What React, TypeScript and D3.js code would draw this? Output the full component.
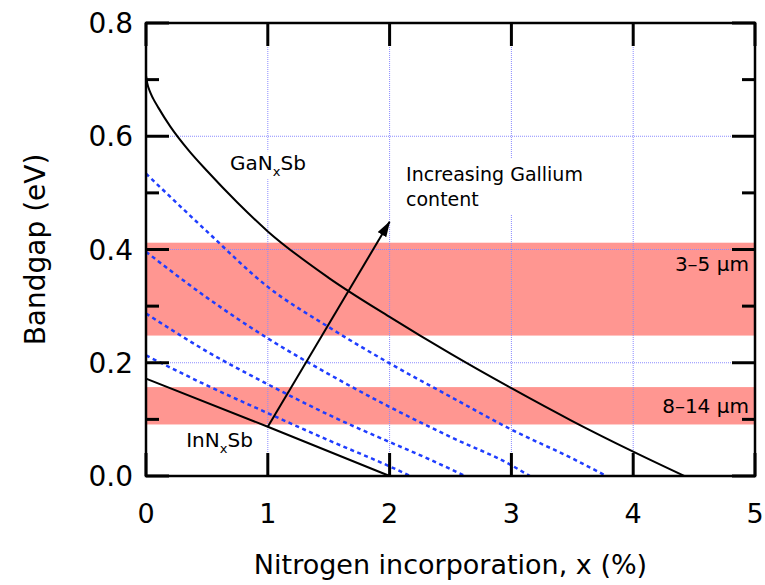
import React, { useRef, useEffect } from 'react';
import * as d3 from 'd3';

// axis ticks
const xTicks = [0, 1, 2, 3, 4, 5];
const yTicks = [0, 0.2, 0.4, 0.6, 0.8];
const yMinorTicks = [0.1, 0.3, 0.5, 0.7];
const gridX = [1, 2, 3, 4];
const gridY = [0.2, 0.4, 0.6];

// detector windows (eV)
const bandNames = ['3–5 μm', '8–14 μm'];
const bandLow = [0.248, 0.091];
const bandHigh = [0.412, 0.157];

// GaNxSb (solid)
const ganX = [0, 0.01, 0.03, 0.06, 0.1, 0.2, 0.35, 0.5, 0.75, 1, 1.5, 2, 2.5, 3, 3.5, 4, 4.42];
const ganY = [0.707, 0.694, 0.68, 0.666, 0.651, 0.617, 0.575, 0.539, 0.483, 0.432, 0.35, 0.281, 0.216, 0.155, 0.097, 0.043, 0];

// InNxSb (solid)
const innX = [0, 1, 2];
const innY = [0.172, 0.087, 0];

// intermediate gallium contents (dashed)
const alloyX = [
  [0, 0.5, 1, 1.5, 2, 2.5, 3, 3.5, 3.78],
  [0, 0.5, 1, 1.5, 2, 2.5, 3, 3.15],
  [0, 0.5, 1, 1.5, 2, 2.3, 2.62],
  [0, 0.5, 1, 1.5, 2, 2.17],
];
const alloyY = [
  [0.534, 0.432, 0.334, 0.263, 0.199, 0.14, 0.082, 0.031, 0],
  [0.396, 0.315, 0.243, 0.18, 0.122, 0.069, 0.019, 0],
  [0.287, 0.22, 0.162, 0.108, 0.06, 0.032, 0],
  [0.213, 0.16, 0.111, 0.063, 0.017, 0],
];

// arrow "increasing gallium"
const arrowX = [1, 2];
const arrowY = [0.087, 0.449];

const FONT = 'DejaVu Sans';

const x = d3.scaleLinear().domain([0, 5]).range([146, 755]);
const y = d3.scaleLinear().domain([0, 0.8]).range([476, 23]);

// inward ticks on all four sides
const Ticks = () => (
  <g stroke="#000" strokeWidth={3}>
    {xTicks.map(v => (
      <g key={'x' + v}>
        <line x1={x(v)} x2={x(v)} y1={y(0)} y2={y(0) - 23} />
        <line x1={x(v)} x2={x(v)} y1={y(0.8)} y2={y(0.8) + 23} />
      </g>
    ))}
    {yTicks.map(v => (
      <g key={'y' + v}>
        <line x1={x(0)} x2={x(0) + 23} y1={y(v)} y2={y(v)} />
        <line x1={x(5)} x2={x(5) - 23} y1={y(v)} y2={y(v)} />
      </g>
    ))}
    {yMinorTicks.map(v => (
      <g key={'m' + v}>
        <line x1={x(0)} x2={x(0) + 13} y1={y(v)} y2={y(v)} />
        <line x1={x(5)} x2={x(5) - 13} y1={y(v)} y2={y(v)} />
      </g>
    ))}
  </g>
);

const Chart = () => {
  const ref = useRef(null);

  useEffect(() => {
    const svg = d3.select(ref.current);
    svg.selectAll('*').remove();

    svg.append('defs').append('marker')
      .attr('id', 'arrowhead')
      .attr('markerUnits', 'userSpaceOnUse')
      .attr('markerWidth', 16).attr('markerHeight', 10)
      .attr('refX', 15).attr('refY', 5)
      .attr('orient', 'auto')
      .append('path').attr('d', 'M0,0 L16,5 L0,10 Z').attr('fill', '#000');

    // bands
    svg.selectAll('rect.band').data(bandNames).enter().append('rect')
      .attr('class', 'band')
      .attr('x', x(0)).attr('width', x(5) - x(0))
      .attr('y', (d, i) => y(bandHigh[i]))
      .attr('height', (d, i) => y(bandLow[i]) - y(bandHigh[i]))
      .attr('fill', '#ff9691');

    // grid
    const grid = svg.append('g').attr('stroke', '#8a8aff').attr('stroke-width', 1).attr('stroke-dasharray', '1,1');
    gridX.forEach(v => grid.append('line').attr('x1', x(v)).attr('x2', x(v)).attr('y1', y(0.8)).attr('y2', y(0)));
    gridY.forEach(v => grid.append('line').attr('x1', x(0)).attr('x2', x(5)).attr('y1', y(v)).attr('y2', y(v)));

    const line = d3.line().curve(d3.curveMonotoneX);

    alloyX.forEach((xs, k) => {
      svg.append('path')
        .attr('d', line(xs.map((v, i) => [x(v), y(alloyY[k][i])])))
        .attr('fill', 'none').attr('stroke', '#1f3dff')
        .attr('stroke-width', 2.5).attr('stroke-dasharray', '4,3.5');
    });

    svg.append('path')
      .attr('d', line(ganX.map((v, i) => [x(v), y(ganY[i])])))
      .attr('fill', 'none').attr('stroke', '#000').attr('stroke-width', 2);

    svg.append('path')
      .attr('d', line(innX.map((v, i) => [x(v), y(innY[i])])))
      .attr('fill', 'none').attr('stroke', '#000').attr('stroke-width', 2);

    svg.append('line')
      .attr('x1', x(arrowX[0])).attr('y1', y(arrowY[0]))
      .attr('x2', x(arrowX[1])).attr('y2', y(arrowY[1]))
      .attr('stroke', '#000').attr('stroke-width', 2)
      .attr('marker-end', 'url(#arrowhead)');

    // labels with white backing
    const boxed = (node, pad) => {
      const b = node.node().getBBox();
      svg.insert('rect', () => node.node())
        .attr('x', b.x - pad).attr('y', b.y - pad)
        .attr('width', b.width + 2 * pad).attr('height', b.height + 2 * pad)
        .attr('fill', '#fff');
    };

    const gan = svg.append('text').attr('x', x(0.69)).attr('y', y(0.54))
      .attr('font-family', FONT).attr('font-size', 20);
    gan.append('tspan').text('GaN');
    gan.append('tspan').attr('font-size', 13).attr('dy', 6).text('x');
    gan.append('tspan').attr('dy', -6).text('Sb');
    boxed(gan, 0);

    const inn = svg.append('text').attr('x', x(0.33)).attr('y', y(0.052))
      .attr('font-family', FONT).attr('font-size', 20);
    inn.append('tspan').text('InN');
    inn.append('tspan').attr('font-size', 13).attr('dy', 6).text('x');
    inn.append('tspan').attr('dy', -6).text('Sb');

    const inc = svg.append('text').attr('font-family', FONT).attr('font-size', 19);
    inc.append('tspan').attr('x', x(2.135)).attr('y', y(0.521)).text('Increasing Gallium');
    inc.append('tspan').attr('x', x(2.135)).attr('y', y(0.476)).text('content');
    boxed(inc, 4);

    const bandLabelY = [0.362, 0.111];
    svg.selectAll('text.bandlabel').data(bandNames).enter().append('text')
      .attr('class', 'bandlabel')
      .attr('x', x(4.95)).attr('y', (d, i) => y(bandLabelY[i]))
      .attr('text-anchor', 'end')
      .attr('font-family', FONT).attr('font-size', 20)
      .text(d => d);

    svg.append('rect')
      .attr('x', x(0)).attr('y', y(0.8))
      .attr('width', x(5) - x(0)).attr('height', y(0) - y(0.8))
      .attr('fill', 'none').attr('stroke', '#000').attr('stroke-width', 2.5);

    // tick labels
    svg.selectAll('text.xlab').data(xTicks).enter().append('text')
      .attr('class', 'xlab')
      .attr('x', d => x(d)).attr('y', 523)
      .attr('text-anchor', 'middle')
      .attr('font-family', FONT).attr('font-size', 27)
      .text(d => d);
    svg.selectAll('text.ylab').data(yTicks).enter().append('text')
      .attr('class', 'ylab')
      .attr('x', 133).attr('y', d => y(d) + 10)
      .attr('text-anchor', 'end')
      .attr('font-family', FONT).attr('font-size', 28)
      .text(d => d3.format('.1f')(d));

    // axis titles
    svg.append('text')
      .attr('x', (x(0) + x(5)) / 2).attr('y', 574)
      .attr('text-anchor', 'middle')
      .attr('font-family', FONT).attr('font-size', 27)
      .text('Nitrogen incorporation, x (%)');
    svg.append('text')
      .attr('transform', `translate(45,${(y(0) + y(0.8)) / 2}) rotate(-90)`)
      .attr('text-anchor', 'middle')
      .attr('font-family', FONT).attr('font-size', 28)
      .text('Bandgap (eV)');
  }, []);

  return (
    <div style={{ position: 'absolute', left: 0, top: 0, width: 765, height: 585 }}>
      <svg ref={ref} width={765} height={585}
        style={{ position: 'absolute', left: 0, top: 0, background: '#fff' }} />
      <svg width={765} height={585} style={{ position: 'absolute', left: 0, top: 0 }}>
        <Ticks />
      </svg>
    </div>
  );
};

export default function App() {
  return <Chart />;
}
